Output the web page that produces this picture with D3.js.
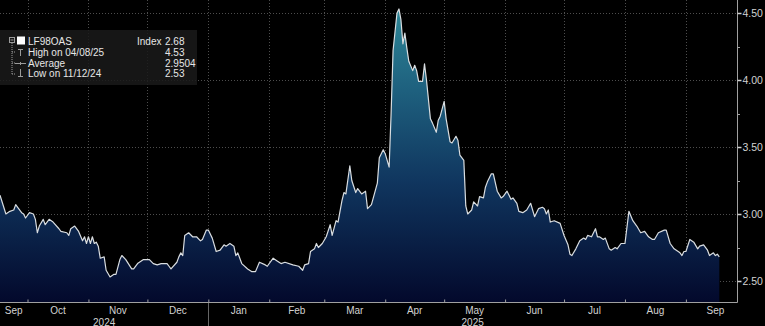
<!DOCTYPE html>
<html>
<head>
<meta charset="utf-8">
<script src="https://cdn.jsdelivr.net/npm/d3@7"></script>
<style>
  html, body { margin: 0; padding: 0; background: #000; }
  svg { display: block; }
  text { font-family: "Liberation Sans", Arial, sans-serif; }
</style>
</head>
<body>
<svg id="chart" width="765" height="326"></svg>
<script>
// LF98OAS index level, Sep 2024 - Sep 2025
const dates = [
  "2024-09-17","2024-09-20","2024-09-22","2024-09-24","2024-09-25","2024-09-26","2024-09-28","2024-09-29","2024-09-30",
  "2024-10-02","2024-10-04","2024-10-05","2024-10-06","2024-10-07","2024-10-09","2024-10-10","2024-10-12","2024-10-14",
  "2024-10-17","2024-10-18","2024-10-21","2024-10-22","2024-10-23","2024-10-25","2024-10-27","2024-10-29","2024-10-30",
  "2024-10-31","2024-11-01","2024-11-02","2024-11-03","2024-11-04","2024-11-05","2024-11-06","2024-11-07","2024-11-09",
  "2024-11-10","2024-11-12","2024-11-14","2024-11-15","2024-11-17","2024-11-18","2024-11-20","2024-11-23","2024-11-24",
  "2024-11-26","2024-11-29","2024-12-02","2024-12-04","2024-12-06","2024-12-08","2024-12-11","2024-12-12","2024-12-13",
  "2024-12-16","2024-12-17","2024-12-18","2024-12-19","2024-12-20","2024-12-22","2024-12-24","2024-12-26","2024-12-28",
  "2024-12-29","2024-12-31","2025-01-01","2025-01-03","2025-01-05","2025-01-07","2025-01-09","2025-01-10","2025-01-12",
  "2025-01-14","2025-01-15","2025-01-16","2025-01-18","2025-01-21","2025-01-23","2025-01-25","2025-01-27","2025-01-30",
  "2025-01-31","2025-02-03","2025-02-05","2025-02-07","2025-02-09","2025-02-13","2025-02-16","2025-02-18","2025-02-19",
  "2025-02-21","2025-02-22","2025-02-24","2025-02-25","2025-02-26","2025-02-28","2025-03-02","2025-03-04","2025-03-05",
  "2025-03-07","2025-03-08","2025-03-10","2025-03-11","2025-03-12","2025-03-14","2025-03-15","2025-03-17","2025-03-18",
  "2025-03-20","2025-03-22","2025-03-23","2025-03-25","2025-03-28","2025-03-29","2025-03-31","2025-04-01","2025-04-03",
  "2025-04-04","2025-04-05","2025-04-07","2025-04-08","2025-04-09","2025-04-10","2025-04-11","2025-04-12","2025-04-13",
  "2025-04-15","2025-04-16","2025-04-17","2025-04-18","2025-04-20","2025-04-21","2025-04-22","2025-04-24","2025-04-25",
  "2025-04-27","2025-04-28","2025-04-29","2025-05-01","2025-05-02","2025-05-04","2025-05-05","2025-05-07","2025-05-08",
  "2025-05-09","2025-05-11","2025-05-12","2025-05-13","2025-05-15","2025-05-16","2025-05-18","2025-05-19","2025-05-21",
  "2025-05-22","2025-05-23","2025-05-25","2025-05-26","2025-05-28","2025-05-30","2025-05-31","2025-06-02","2025-06-04",
  "2025-06-05","2025-06-07","2025-06-08","2025-06-10","2025-06-12","2025-06-14","2025-06-16","2025-06-18","2025-06-20",
  "2025-06-21","2025-06-22","2025-06-23","2025-06-24","2025-06-26","2025-06-29","2025-07-01","2025-07-03","2025-07-04",
  "2025-07-05","2025-07-07","2025-07-09","2025-07-11","2025-07-12","2025-07-13","2025-07-15","2025-07-17","2025-07-18",
  "2025-07-19","2025-07-21","2025-07-22","2025-07-24","2025-07-25","2025-07-27","2025-07-28","2025-07-30","2025-08-01",
  "2025-08-03","2025-08-05","2025-08-07","2025-08-09","2025-08-11","2025-08-13","2025-08-15","2025-08-16","2025-08-18",
  "2025-08-21","2025-08-22","2025-08-24","2025-08-26","2025-08-29","2025-08-30","2025-08-31","2025-09-01","2025-09-03",
  "2025-09-05","2025-09-07","2025-09-08","2025-09-10","2025-09-12","2025-09-13","2025-09-15","2025-09-16","2025-09-17",
  "2025-09-18"
];
const values = [
  3.14,3.00,3.02,3.03,3.07,3.05,3.01,3.00,2.97,
  3.01,3.00,2.96,2.86,2.91,2.96,2.92,2.96,2.94,
  2.89,2.87,2.86,2.84,2.89,2.91,2.87,2.80,2.83,
  2.78,2.83,2.78,2.83,2.78,2.79,2.76,2.67,2.68,
  2.58,2.53,2.55,2.55,2.66,2.69,2.66,2.59,2.59,
  2.63,2.66,2.66,2.63,2.62,2.63,2.63,2.61,2.59,
  2.64,2.68,2.71,2.69,2.84,2.86,2.83,2.83,2.80,
  2.81,2.88,2.88,2.82,2.72,2.73,2.77,2.76,2.78,
  2.76,2.69,2.71,2.63,2.59,2.57,2.57,2.64,2.62,
  2.61,2.67,2.65,2.63,2.64,2.62,2.61,2.58,2.62,
  2.63,2.72,2.74,2.78,2.75,2.78,2.83,2.92,2.84,
  2.95,2.94,3.10,3.16,3.15,3.36,3.25,3.16,3.19,
  3.15,3.17,3.04,3.07,3.23,3.42,3.48,3.45,3.35,
  3.75,4.22,4.50,4.53,4.45,4.27,4.35,4.24,4.14,
  4.07,4.11,4.07,3.99,3.99,4.12,4.00,3.71,3.68,
  3.61,3.70,3.73,3.84,3.71,3.54,3.53,3.58,3.55,
  3.44,3.40,3.06,3.00,3.03,3.09,3.06,3.13,3.12,
  3.20,3.24,3.30,3.30,3.17,3.12,3.13,3.17,3.11,
  3.12,3.08,3.02,3.01,3.03,3.08,2.98,3.04,3.05,
  3.04,3.00,3.03,2.94,2.95,2.93,2.84,2.77,2.70,
  2.69,2.74,2.80,2.82,2.81,2.84,2.83,2.89,2.83,
  2.83,2.81,2.82,2.74,2.73,2.75,2.74,2.78,2.78,
  3.02,2.95,2.91,2.86,2.87,2.83,2.81,2.81,2.86,
  2.88,2.88,2.78,2.74,2.71,2.69,2.72,2.72,2.81,
  2.79,2.74,2.76,2.77,2.73,2.69,2.71,2.69,2.70,
  2.68
];
const yTickValues = [2.50, 3.00, 3.50, 4.00, 4.50];
const yMinorTickValues = [2.75, 3.25, 3.75, 4.25];
const yearLabels = ["2024", "2025"];
const seriesName = "LF98OAS";
const averageText = "2.9504";

const svg = d3.select("#chart");
const W = 765, H = 326;
const plotRight = 737, plotBottom = 302;

const parse = d3.timeParse("%Y-%m-%d");
const fmtDate = d3.timeFormat("%m/%d/%y");
const data = dates.map((d, i) => ({ date: parse(d), value: values[i] }));

const x = d3.scaleTime()
  .domain([parse("2024-09-17"), parse("2025-09-27")])
  .range([0, plotRight]);
const y = d3.scaleLinear().domain([2.5, 4.5]).range([281, 13]);

svg.append("rect").attr("width", W).attr("height", H).attr("fill", "#000");

// area gradient, fixed to the plot height
const defs = svg.append("defs");
const grad = defs.append("linearGradient")
  .attr("id", "areaFill")
  .attr("gradientUnits", "userSpaceOnUse")
  .attr("x1", 0).attr("x2", 0).attr("y1", 0).attr("y2", plotBottom);
[[0, "#2f8a99"], [0.3, "#1e607e"], [0.6, "#10365f"], [1, "#03092c"]].forEach(([o, c]) =>
  grad.append("stop").attr("offset", o).attr("stop-color", c));

// grid
const monthStarts = d3.timeMonth.range(d3.timeMonth.ceil(x.domain()[0]), x.domain()[1]);
const grid = svg.append("g").attr("stroke", "#4d4d4d").attr("stroke-width", 1)
  .attr("stroke-dasharray", "1,2");
grid.selectAll("line.v").data(monthStarts).join("line")
  .attr("x1", d => Math.round(x(d)) + 0.5).attr("x2", d => Math.round(x(d)) + 0.5)
  .attr("y1", 0).attr("y2", plotBottom);
grid.selectAll("line.h").data(yTickValues).join("line")
  .attr("x1", 0).attr("x2", plotRight)
  .attr("y1", d => Math.round(y(d)) + 0.5).attr("y2", d => Math.round(y(d)) + 0.5);

// area + line
const area = d3.area().x(d => x(d.date)).y0(plotBottom).y1(d => y(d.value));
const line = d3.line().x(d => x(d.date)).y(d => y(d.value));
svg.append("path").datum(data).attr("d", area).attr("fill", "url(#areaFill)");
svg.append("path").datum(data).attr("d", line)
  .attr("fill", "none").attr("stroke", "#d9dde0").attr("stroke-width", 1.2)
  .attr("stroke-linejoin", "round");

// right axis
const yAxis = svg.append("g").attr("transform", `translate(${plotRight + 0.5},0)`)
  .call(d3.axisRight(y).tickValues(yTickValues).tickFormat(d3.format(".2f")).tickSize(4).tickPadding(1));
yAxis.select(".domain").attr("d", `M0,0V${plotBottom + 0.5}`).attr("stroke", "#a0a0a0");
yAxis.selectAll(".tick line").attr("stroke", "#d0d0d0").attr("stroke-width", 1.5);
yAxis.selectAll(".tick text").attr("fill", "#d2d2d2").style("font-size", "10.5px");
svg.append("g").selectAll("line").data(yMinorTickValues).join("line")
  .attr("x1", plotRight).attr("x2", plotRight + 3)
  .attr("y1", d => Math.round(y(d)) + 0.5).attr("y2", d => Math.round(y(d)) + 0.5)
  .attr("stroke", "#a0a0a0");

// bottom axis
const xAxis = svg.append("g").attr("transform", `translate(0,${plotBottom + 0.5})`)
  .call(d3.axisBottom(x).tickValues(monthStarts).tickFormat("").tickSize(3).tickSizeInner(-3));
xAxis.select(".domain").attr("d", `M0,0H${plotRight + 0.5}`).attr("stroke", "#a0a0a0");
xAxis.selectAll(".tick line").attr("stroke", "#a0a0a0");

// month labels centred inside each month
const monthBounds = d3.timeMonth.range(d3.timeMonth.floor(x.domain()[0]), x.domain()[1]);
svg.append("g").selectAll("text").data(monthBounds).join("text")
  .attr("x", d => {
    const a = Math.max(0, x(d));
    const b = Math.min(plotRight + 8, x(d3.timeMonth.offset(d, 1)));
    return (a + b) / 2;
  })
  .attr("y", 314)
  .attr("text-anchor", "middle")
  .attr("fill", "#d2d2d2")
  .style("font-size", "10px")
  .text(d3.timeFormat("%b"));

// year labels and separator
const yearStart = parse("2025-01-01");
svg.append("line")
  .attr("x1", Math.round(x(yearStart)) + 0.5).attr("x2", Math.round(x(yearStart)) + 0.5)
  .attr("y1", plotBottom + 1).attr("y2", H).attr("stroke", "#666");
svg.append("g").selectAll("text").data(yearLabels).join("text")
  .attr("x", (d, i) => i === 0 ? x(yearStart) / 2 : (x(yearStart) + plotRight) / 2)
  .attr("y", 325.5)
  .attr("text-anchor", "middle")
  .attr("fill", "#d2d2d2")
  .style("font-size", "10px")
  .text(d => d);

// legend
const hi = data.reduce((a, b) => (b.value > a.value ? b : a));
const lo = data.reduce((a, b) => (b.value < a.value ? b : a));
const last = data[data.length - 1];
const leg = svg.append("g");
leg.append("rect").attr("x", 0).attr("y", 30).attr("width", 197).attr("height", 55)
  .attr("fill", "#1a1a1a").attr("fill-opacity", 0.85);

const icon = leg.append("g").attr("stroke", "#9a9a9a").attr("fill", "none").attr("stroke-width", 1);
icon.append("rect").attr("x", 9.5).attr("y", 37.5).attr("width", 5).attr("height", 5);
icon.append("line").attr("x1", 10.5).attr("x2", 13.5).attr("y1", 40).attr("y2", 40);
icon.append("path").attr("d", "M12,43V74").attr("stroke-dasharray", "1,1");
[52, 63, 74].forEach(yy => icon.append("path").attr("d", `M12,${yy}H16`).attr("stroke-dasharray", "1,1"));
icon.append("path").attr("d", "M18,49.5H23M20.5,49.5V56");
icon.append("path").attr("d", "M15,63.5H26M20.5,62V65");
icon.append("path").attr("d", "M20.5,69V76M18,76.5H23");
leg.append("rect").attr("x", 17).attr("y", 36.5).attr("width", 8).attr("height", 8).attr("fill", "#fff");

const rows = [
  { label: seriesName, pre: "Index", val: d3.format(".2f")(last.value), y: 45 },
  { label: `High on ${fmtDate(hi.date)}`, pre: "", val: d3.format(".2f")(hi.value), y: 56 },
  { label: "Average", pre: "", val: averageText, y: 66.5 },
  { label: `Low on ${fmtDate(lo.date)}`, pre: "", val: d3.format(".2f")(lo.value), y: 77 }
];
const lt = leg.append("g").attr("fill", "#e6e6e6").style("font-size", "10px");
rows.forEach(r => {
  lt.append("text").attr("x", 28).attr("y", r.y).text(r.label);
  if (r.pre) lt.append("text").attr("x", 137).attr("y", r.y).text(r.pre);
  lt.append("text").attr("x", 165).attr("y", r.y).text(r.val);
});
</script>
</body>
</html>
